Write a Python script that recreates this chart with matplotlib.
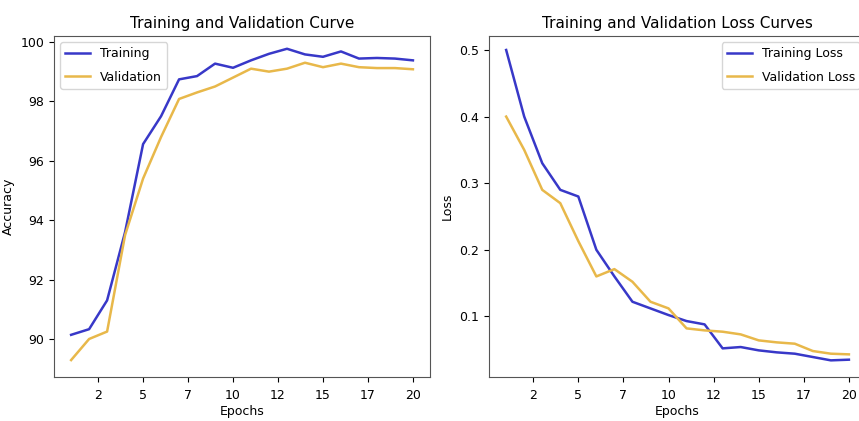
import matplotlib
matplotlib.use('Agg')
import matplotlib.pyplot as plt
from matplotlib.ticker import FixedLocator, FuncFormatter

plt.rcParams['font.family'] = ['DejaVu Sans']

epochs = list(range(1, 21))
train_acc = [90.14, 90.33, 91.3, 93.6, 96.56, 97.5, 98.74, 98.85, 99.27, 99.13,
             99.38, 99.6, 99.77, 99.58, 99.5, 99.68, 99.44, 99.46, 99.44, 99.38]
val_acc = [89.29, 90.0, 90.25, 93.5, 95.4, 96.8, 98.08, 98.3, 98.5, 98.8,
           99.1, 99.0, 99.1, 99.3, 99.15, 99.27, 99.15, 99.12, 99.12, 99.08]
train_loss = [0.50, 0.40, 0.33, 0.29, 0.28, 0.20, 0.16, 0.122, 0.112, 0.102,
              0.093, 0.088, 0.052, 0.054, 0.049, 0.046, 0.044, 0.039, 0.034, 0.035]
val_loss = [0.40, 0.35, 0.29, 0.27, 0.213, 0.16, 0.171, 0.152, 0.122, 0.112,
            0.082, 0.079, 0.077, 0.073, 0.064, 0.061, 0.059, 0.048, 0.044, 0.043]
x_ticks = [2.5, 5, 7.5, 10, 12.5, 15, 17.5, 20]

blue = '#3838c8'
gold = '#e8b84a'

fig = plt.figure(figsize=(8.59, 4.21), dpi=100)
ax1 = fig.add_axes([0.0629, 0.1045, 0.4377, 0.81])
ax2 = fig.add_axes([0.5693, 0.1045, 0.4389, 0.81])

ax1.plot(epochs, train_acc, color=blue, lw=1.8, label='Training')
ax1.plot(epochs, val_acc, color=gold, lw=1.8, label='Validation')
ax1.set_title('Training and Validation Curve', fontsize=11)
ax1.set_xlabel('Epochs', fontsize=9, labelpad=2)
ax1.set_ylabel('Accuracy', fontsize=9)
ax1.set_ylim(88.72, 100.2)
ax1.legend(loc='upper left', fontsize=9, labelspacing=0.85)

ax2.plot(epochs, train_loss, color=blue, lw=1.8, label='Training Loss')
ax2.plot(epochs, val_loss, color=gold, lw=1.8, label='Validation Loss')
ax2.set_title('Training and Validation Loss Curves', fontsize=11)
ax2.set_xlabel('Epochs', fontsize=9, labelpad=2)
ax2.set_ylabel('Loss', fontsize=9)
ax2.set_ylim(0.009, 0.521)
ax2.set_yticks([0.1, 0.2, 0.3, 0.4, 0.5])
ax2.legend(loc='upper right', fontsize=9, labelspacing=0.85)

for ax in (ax1, ax2):
    ax.xaxis.set_major_locator(FixedLocator(x_ticks))
    ax.xaxis.set_major_formatter(FuncFormatter(lambda v, p: str(int(v))))
    ax.tick_params(labelsize=9)
    ax.tick_params(axis='x', pad=5)
    for s in ax.spines.values():
        s.set_color('#555555')

fig.savefig('out.png', dpi=100)
